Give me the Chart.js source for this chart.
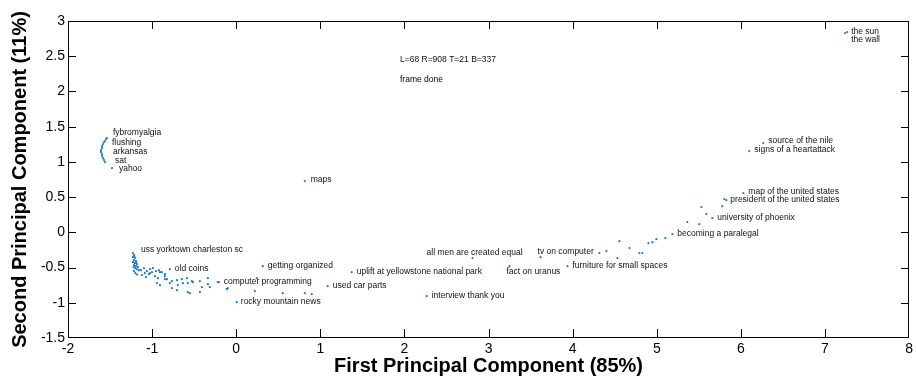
<!DOCTYPE html>
<html>
<head>
<meta charset="utf-8">
<script src="https://cdn.jsdelivr.net/npm/chart.js@4/dist/chart.umd.min.js"></script>
</head>
<body style="margin:0; background:#fff">
<canvas id="pca" width="916" height="385"></canvas>
<script>
/* PCA scatter of search queries: first vs second principal component */

// tick labels
const xTicks = [-2, -1, 0, 1, 2, 3, 4, 5, 6, 7, 8];
const yTicks = [-1.5, -1, -0.5, 0, 0.5, 1, 1.5, 2, 2.5, 3];

// the tight arc on the upper left
const arcX = [-1.537,-1.549,-1.561,-1.572,-1.584,-1.596,-1.596,-1.608,-1.608,-1.596,-1.596,-1.584,-1.572,-1.561,-1.477];
const arcY = [1.338,1.324,1.295,1.281,1.253,1.224,1.196,1.168,1.139,1.111,1.082,1.054,1.026,0.997,0.912];

// dense cluster near (-1.2, -0.5) and its tail
const clusterX = [-1.228,-1.216,-1.228,-1.204,-1.216,-1.192,-1.228,-1.204,-1.181,-1.216,-1.192,-1.169,-1.204,-1.181,-1.157,-1.216,
  -1.21,-1.19,-1.22,-1.20,-1.18,
  -1.133,-1.097,-1.062,-1.026,-0.990,-1.086,-1.038,-1.002,-0.955,-0.919,-1.121,-1.074,-0.967,-0.931,-0.884,-0.848,-0.907,-1.026,
  -0.848,-0.824,-0.765,-0.705,-0.646,-0.587,-0.789,-0.694,-0.634,-0.575,-0.515,-0.432,-0.337,-0.337,-0.907,-0.765,-0.705,
  -0.575,-0.551,-0.432,-0.219,-0.112,-0.100,0.221,0.245,0.553,0.815,0.898,-0.527,-0.409,-0.314,-0.943,-0.848,-0.789];
const clusterY = [-0.295,-0.324,-0.352,-0.366,-0.395,-0.409,-0.423,-0.438,-0.452,-0.466,-0.480,-0.494,-0.509,-0.523,-0.537,-0.551,
  -0.34,-0.43,-0.49,-0.58,-0.60,
  -0.537,-0.509,-0.551,-0.523,-0.509,-0.580,-0.594,-0.565,-0.551,-0.537,-0.608,-0.636,-0.622,-0.651,-0.565,-0.594,-0.565,-0.580,
  -0.622,-0.665,-0.693,-0.679,-0.665,-0.651,-0.722,-0.750,-0.722,-0.722,-0.707,-0.693,-0.651,-0.736,-0.750,-0.793,-0.821,
  -0.849,-0.864,-0.849,-0.707,-0.807,-0.793,-0.835,-0.651,-0.864,-0.864,-0.878,-0.693,-0.779,-0.779,-0.722,-0.665,-0.523];

// scattered middle points and the rising right branch
const branchX = [0.815,0.007,0.316,-0.207,1.088,1.373,2.264,2.810,3.249,3.618,3.938,
  4.318,4.401,4.532,4.556,4.675,4.793,4.829,4.900,4.948,4.995,5.102,5.185,5.363,5.506,5.530,5.589,5.660,5.779,5.803,5.827,
  6.029,6.100,6.266,7.240,7.264];
const branchY = [0.727,-0.991,-0.480,-0.707,-0.764,-0.565,-0.906,-0.366,-0.480,-0.352,-0.480,
  -0.295,-0.267,-0.366,-0.125,-0.224,-0.295,-0.295,-0.153,-0.139,-0.097,-0.082,-0.026,0.145,0.116,0.358,0.259,0.202,0.372,0.472,0.457,
  0.557,1.153,1.267,2.830,2.844];

// annotated queries (label anchor in data units)
const labelNames = ['fybromyalgia','flushing','arkansas','sat','yahoo','maps','uss yorktown charleston sc','old coins',
  'getting organized','computer programming','rocky mountain news','used car parts','uplift at yellowstone national park',
  'interview thank you','all men are created equal','fact on uranus','tv on computer','furniture for small spaces',
  'becoming a paralegal','university of phoenix','president of the united states','map of the united states',
  'signs of a heartattack','source of the nile','the sun','the wall'];
const labelX = [-1.525,-1.537,-1.525,-1.501,-1.454,0.827,-1.192,-0.789,
  0.316,-0.207,-0.005,1.088,1.373,
  2.264,2.204,3.154,3.523,3.938,
  5.185,5.660,5.815,6.029,
  6.100,6.266,7.252,7.252];
const labelY = [1.409,1.267,1.139,1.011,0.898,0.741,-0.253,-0.509,
  -0.466,-0.707,-0.991,-0.750,-0.565,
  -0.906,-0.295,-0.565,-0.281,-0.480,
  -0.012,0.202,0.457,0.571,
  1.167,1.295,2.844,2.730];

function zip(xs, ys){ return xs.map((x, i) => ({ x, y: ys[i] })); }

const points = zip(arcX, arcY).concat(zip(clusterX, clusterY), zip(branchX, branchY));

const FONT = "'Liberation Sans', Arial, Helvetica, sans-serif";

// frame with inward ticks plus the query names, one plugin
const overlay = {
  id: 'overlay',
  afterDraw(chart){
    const ctx = chart.ctx;
    const sx = chart.scales.x, sy = chart.scales.y;
    const tl = 8;
    const L = Math.round(sx.getPixelForValue(xTicks[0]));
    const R = Math.round(sx.getPixelForValue(xTicks[xTicks.length - 1])) - 1;
    const T = Math.round(sy.getPixelForValue(yTicks[yTicks.length - 1]));
    const B = Math.round(sy.getPixelForValue(yTicks[0])) - 1;

    ctx.save();
    ctx.fillStyle = '#111';
    ctx.font = '8.5px ' + FONT;
    ctx.textAlign = 'left';
    ctx.textBaseline = 'middle';
    labelNames.forEach((name, i) => {
      ctx.fillText(name, sx.getPixelForValue(labelX[i]) + 5, sy.getPixelForValue(labelY[i]));
    });
    // temporary readout
    ctx.fillText('L=' + L + ' R=' + R + ' T=' + T + ' B=' + B, 400, 60);

    ctx.fillStyle = '#000';
    ctx.fillRect(L, T, R - L + 1, 1);
    ctx.fillRect(L, B, R - L + 1, 1);
    ctx.fillRect(L, T, 1, B - T + 1);
    ctx.fillRect(R, T, 1, B - T + 1);
    xTicks.forEach(v => {
      const px = Math.min(R, Math.round(sx.getPixelForValue(v)));
      ctx.fillRect(px, B - tl, 1, tl);
      ctx.fillRect(px, T, 1, tl);
    });
    yTicks.forEach(v => {
      const py = Math.min(B, Math.round(sy.getPixelForValue(v)));
      ctx.fillRect(L, py, tl, 1);
      ctx.fillRect(R - tl + 1, py, tl, 1);
    });
    ctx.fillText('frame done', 400, 80);
    ctx.restore();
  }
};

new Chart(document.getElementById('pca'), {
  type: 'scatter',
  data: {
    datasets: [{
      data: points,
      pointRadius: 1.1,
      borderWidth: 0,
      backgroundColor: '#1f78d1'
    }]
  },
  options: {
    responsive: false,
    animation: false,
    events: [],
    layout: { padding: { top: 21, right: 6, left: 0, bottom: 0 } },
    plugins: { legend: { display: false }, tooltip: { enabled: false } },
    scales: {
      x: {
        type: 'linear', min: -2, max: 8,
        afterBuildTicks: s => { s.ticks = xTicks.map(v => ({ value: v })); },
        afterFit: s => { s.height = 47; },
        grid: { display: false, drawTicks: false },
        border: { display: false },
        ticks: { color: '#000', padding: 3, font: { family: FONT, size: 14 }, callback: v => String(v) },
        title: {
          display: true, text: 'First Principal Component (85%)', color: '#000',
          font: { family: FONT, size: 20, weight: 'bold' }, padding: { top: 7, bottom: 7 }
        }
      },
      y: {
        type: 'linear', min: -1.5, max: 3,
        afterBuildTicks: s => { s.ticks = yTicks.map(v => ({ value: v })); },
        afterFit: s => { s.width = 68; },
        grid: { display: false, drawTicks: false },
        border: { display: false },
        ticks: { color: '#000', padding: 3, font: { family: FONT, size: 14 }, callback: v => String(v) },
        title: {
          display: true, text: 'Second Principal Component (11%)', color: '#000',
          font: { family: FONT, size: 20, weight: 'bold' }, padding: { top: 8, bottom: 8 }
        }
      }
    }
  },
  plugins: [overlay]
});
</script>
</body>
</html>
